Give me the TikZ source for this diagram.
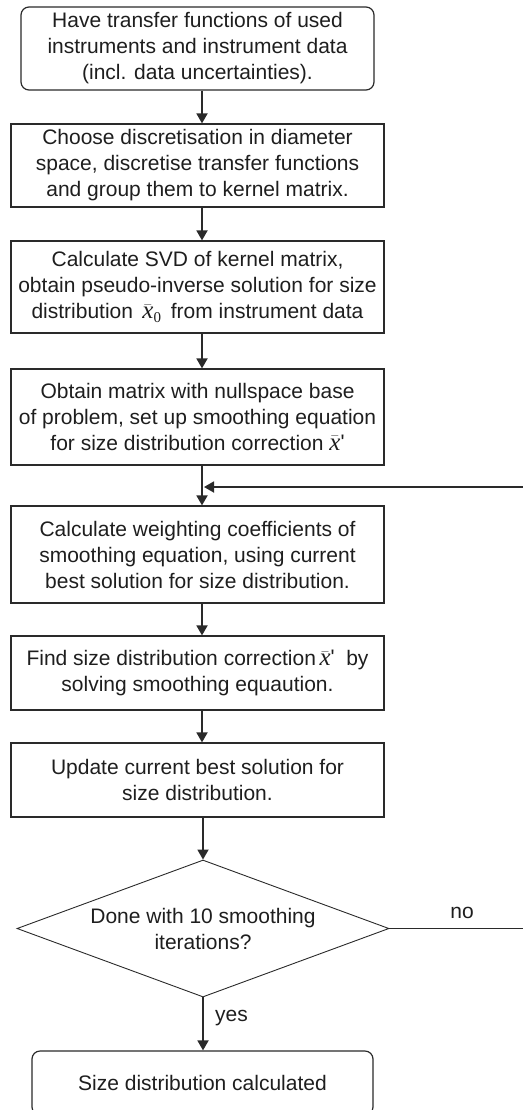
\documentclass[tikz,border=0pt]{standalone}
\usepackage{fontspec}
\setmainfont{Liberation Sans}
\newfontfamily\tms{Liberation Serif}
\usetikzlibrary{arrows.meta,shapes.geometric,calc}
\definecolor{ln}{HTML}{2A2A2A}
\definecolor{txt}{HTML}{1E1E1E}
\newcommand\xbar{\ensuremath{\bar{\hbox{\tms\itshape\fontsize{25}{26}\selectfont x}}}}
\newcommand\xzero{\ensuremath{\xbar_{\hbox{\tms\fontsize{15}{15}\selectfont 0}}}}
\newcommand\xprime{\xbar\raisebox{1pt}{\textquotesingle}}
\begin{document}
\begin{tikzpicture}[x=1pt,y=-1pt,
  every node/.style={font=\fontsize{21}{26}\selectfont, text=txt},
  box/.style={draw=ln, line width=1.2pt, minimum width=373pt, align=center, inner sep=1pt},
  rbox/.style={box, rounded corners=8pt},
  dec/.style={draw=ln, line width=0.9pt, shape=diamond, aspect=2.72, align=center, inner sep=0pt, minimum width=372pt, minimum height=137pt},
  arr/.style={draw=ln, line width=1.8pt, -{Triangle[length=10pt,width=11pt]}},
  thin/.style={draw=ln, line width=1pt}
]
\useasboundingbox (0,0) rectangle (522,1110);

\node[rbox, minimum width=353pt, minimum height=83pt] (b1) at (197.5,48.5)
  {Have transfer functions of used\\instruments and instrument data\\(incl. data uncertainties).};
\node[box, minimum height=83pt] (b2) at (197.5,165.5)
  {Choose discretisation in diameter\\space, discretise transfer functions\\and group them to kernel matrix.};
\node[box, minimum height=92pt] (b3) at (197.5,287)
  {Calculate SVD of kernel matrix,\\obtain pseudo-inverse solution for size\\distribution\ \,\xzero\ \,from instrument data};
\node[box, minimum height=96pt] (b4) at (197.5,417)
  {Obtain matrix with nullspace base\\of problem, set up smoothing equation\\for size distribution correction \xprime};
\node[box, minimum height=97pt] (b5) at (197.5,554.5)
  {Calculate weighting coefficients of\\smoothing equation, using current\\best solution for size distribution.};
\node[box, minimum height=74pt] (b6) at (197.5,673)
  {Find size distribution correction\,\xprime\ \ by\\solving smoothing equaution.};
\node[box, minimum height=74pt] (b7) at (197.5,780)
  {Update current best solution for\\size distribution.};
\node[dec] (d) at (203,928.5) {Done with 10 smoothing\\iterations?};
\node[rbox, minimum width=341pt, minimum height=64pt] (b8) at (202.5,1083)
  {Size distribution calculated};

\node (no) at (462,913) {no};
\node[anchor=west, inner sep=0pt] (yes) at (215,1018) {yes};

\coordinate (j) at (204,487);

\draw[arr] ([xshift=4.5pt]b1.south) -- ([xshift=4.5pt]b2.north);
\draw[arr] ([xshift=4.5pt]b2.south) -- ([xshift=4.5pt]b3.north);
\draw[arr] ([xshift=4.5pt]b3.south) -- ([xshift=4.5pt]b4.north);
\draw[arr] ([xshift=4.5pt]b4.south) -- ([xshift=4.5pt]b5.north);
\draw[arr] ([xshift=4.5pt]b5.south) -- ([xshift=4.5pt]b6.north);
\draw[arr] ([xshift=4.5pt]b6.south) -- ([xshift=4.5pt]b7.north);
\draw[arr] (d.north |- b7.south) -- (d.north);
\draw[arr] (d.south) -- (d.south |- b8.north);
\draw[thin] (d.east) -- (530,928.5);
\draw[arr] (530,928.5) -- (530,487) -- (j);
\end{tikzpicture}
\end{document}
